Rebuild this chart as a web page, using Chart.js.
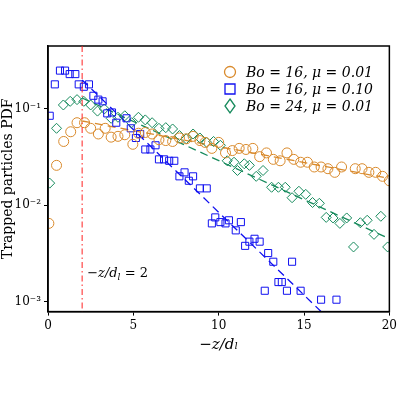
<!DOCTYPE html>
<html><head>
<script src="https://cdn.jsdelivr.net/npm/chart.js@4"></script>
<style>body{margin:0;background:#fff}</style>
</head><body>
<canvas id="c" width="400" height="400"></canvas>
<script>
// Bo=16, mu=0.01
const orangeX = [0.05,0.5,0.92,1.33,1.7,2.14,2.5,2.95,3.35,3.7,4.1,4.5,4.97,5.3,5.7,6.1,6.5,6.9,7.3,7.7,8.1,8.5,8.9,9.2,9.6,10.0,10.4,10.8,11.2,11.6,12.0,12.4,12.8,13.2,13.6,14.0,14.4,14.8,15.2,15.6,16.0,16.4,16.8,17.2,18.0,18.4,18.8,19.2,19.6,20.0];
const orangeY = [0.0065,0.026,0.046,0.058,0.072,0.072,0.063,0.055,0.063,0.051,0.052,0.054,0.043,0.056,0.057,0.055,0.048,0.047,0.046,0.05,0.049,0.052,0.047,0.045,0.039,0.045,0.035,0.037,0.039,0.038,0.039,0.032,0.035,0.03,0.029,0.035,0.03,0.028,0.028,0.025,0.025,0.024,0.022,0.025,0.024,0.024,0.022,0.022,0.02,0.018];
// Bo=16, mu=0.10
const blueX = [0.1,0.4,0.7,1.0,1.27,1.6,1.8,2.1,2.4,2.66,2.95,3.2,3.47,3.75,4.0,4.6,4.85,5.15,5.4,5.7,6.0,6.3,6.5,6.8,7.1,7.4,7.7,8.0,8.25,8.5,8.9,9.3,9.6,9.8,10.1,10.4,10.6,11.0,11.3,11.55,11.8,12.1,12.4,12.7,12.9,13.2,13.5,13.7,14.0,14.3,14.8,16.0,16.9];
const blueY = [0.085,0.18,0.25,0.25,0.23,0.23,0.18,0.17,0.18,0.137,0.125,0.12,0.09,0.092,0.072,0.08,0.063,0.05,0.055,0.038,0.038,0.042,0.03,0.03,0.029,0.029,0.02,0.022,0.018,0.02,0.015,0.015,0.0065,0.0075,0.0067,0.0065,0.007,0.0055,0.0067,0.0038,0.0042,0.0045,0.0042,0.0013,0.0032,0.0026,0.0016,0.0016,0.0013,0.0026,0.0013,0.00105,0.00105];
// Bo=24, mu=0.01
const greenX = [0.1,0.5,0.9,1.3,1.7,2.1,2.5,2.9,3.3,3.7,4.1,4.5,4.9,5.3,5.7,6.1,6.5,6.9,7.3,7.7,8.1,8.5,8.9,9.3,9.7,10.1,10.5,10.9,11.1,11.5,11.8,12.2,12.6,13.1,13.5,13.9,14.3,14.7,15.1,15.5,15.9,16.3,16.7,17.1,17.5,17.9,18.3,18.7,19.1,19.5,19.9];
const greenY = [0.017,0.063,0.11,0.12,0.125,0.12,0.11,0.095,0.1,0.08,0.082,0.085,0.072,0.082,0.077,0.072,0.063,0.064,0.062,0.053,0.049,0.055,0.05,0.045,0.046,0.042,0.029,0.028,0.023,0.027,0.026,0.02,0.023,0.0154,0.0154,0.0154,0.012,0.014,0.013,0.0107,0.0105,0.0075,0.0074,0.0065,0.0074,0.0037,0.0066,0.007,0.005,0.0077,0.0037];
// fitted dashed lines
const orangeFitX = [2, 20], orangeFitY = [0.075, 0.019];
const blueFitX = [2, 16.1], blueFitY = [0.2, 0.00076];
const greenFitX = [2, 20], greenFitY = [0.13, 0.0045];
const legendLabels = ['Bo = 16, μ = 0.01', 'Bo = 16, μ = 0.10', 'Bo = 24, μ = 0.01'];
const xTicks = [0, 5, 10, 15, 20];

const ORANGE = '#d98a2c', BLUE = '#1010f0', GREEN = '#168a5c';
const pts = (xs, ys) => xs.map((x, i) => ({x: x, y: ys[i]}));
const sup = {'-': '⁻', '1': '¹', '2': '²', '3': '³'};

const extras = {
  id: 'extras',
  afterDraw(chart) {
    const ctx = chart.ctx, xs = chart.scales.x, a = chart.chartArea;
    ctx.save();
    // frame
    ctx.strokeStyle = '#000'; ctx.lineWidth = 1.5;
    ctx.strokeRect(a.left, a.top, a.right - a.left, a.bottom - a.top);
    // red dash-dot line
    ctx.strokeStyle = '#ff2020'; ctx.lineWidth = 1;
    ctx.setLineDash([6, 3, 1.5, 3]);
    const px = xs.getPixelForValue(2);
    ctx.beginPath(); ctx.moveTo(px, a.top); ctx.lineTo(px, a.bottom); ctx.stroke();
    ctx.setLineDash([]);
    ctx.fillStyle = '#000';
    ctx.font = 'italic 13px "DejaVu Serif"';
    ctx.fillText('−z/d', px + 5, 277);
    const w = ctx.measureText('−z/d').width;
    ctx.font = 'italic 9px "DejaVu Serif"';
    ctx.fillText('l', px + 5 + w, 280);
    ctx.font = '13px "DejaVu Serif"';
    ctx.fillText(' = 2', px + 8 + w, 277);
    // legend
    const cols = [ORANGE, BLUE, GREEN];
    for (let i = 0; i < 3; i++) {
      const y = 72 + i * 17, x = 230;
      ctx.strokeStyle = cols[i]; ctx.lineWidth = 1.3;
      ctx.beginPath();
      if (i === 0) ctx.arc(x, y, 5.5, 0, Math.PI * 2);
      else if (i === 1) ctx.rect(x - 5, y - 5, 10, 10);
      else { ctx.moveTo(x, y - 7); ctx.lineTo(x + 5, y); ctx.lineTo(x, y + 7); ctx.lineTo(x - 5, y); ctx.closePath(); }
      ctx.stroke();
      ctx.fillStyle = '#000';
      ctx.font = 'italic 14px "DejaVu Serif"';
      ctx.fillText(legendLabels[i], 246, y + 5);
    }
    ctx.restore();
  }
};

new Chart(document.getElementById('c'), {
  type: 'scatter',
  data: {
    datasets: [
      {data: pts(orangeX, orangeY), pointStyle: 'circle', pointRadius: 5, borderColor: ORANGE, backgroundColor: 'transparent', pointBorderWidth: 1},
      {data: pts(blueX, blueY), pointStyle: 'rect', pointRadius: 5, borderColor: BLUE, backgroundColor: 'transparent', pointBorderWidth: 1},
      {data: pts(greenX, greenY), pointStyle: 'rectRot', pointRadius: 5, borderColor: GREEN, backgroundColor: 'transparent', pointBorderWidth: 1},
      {type: 'line', data: pts(orangeFitX, orangeFitY), borderColor: ORANGE, borderDash: [8, 5], borderWidth: 1.3, pointRadius: 0},
      {type: 'line', data: pts(blueFitX, blueFitY), borderColor: BLUE, borderDash: [8, 5], borderWidth: 1.3, pointRadius: 0},
      {type: 'line', data: pts(greenFitX, greenFitY), borderColor: GREEN, borderDash: [8, 5], borderWidth: 1.3, pointRadius: 0}
    ]
  },
  options: {
    responsive: false, animation: false,
    layout: {padding: {top: 46, right: 0, left: 0, bottom: 46}},
    plugins: {legend: {display: false}, tooltip: {enabled: false}},
    scales: {
      x: {
        type: 'linear', min: 0, max: 20,
        afterBuildTicks: s => { s.ticks = xTicks.map(v => ({value: v})); },
        grid: {drawOnChartArea: false, color: '#000', tickLength: 4},
        border: {color: '#000', width: 1.5},
        ticks: {color: '#000', font: {family: 'DejaVu Serif', size: 12}, maxRotation: 0},
        title: {display: true, text: '−z/dₗ', color: '#000', font: {family: 'DejaVu Serif', size: 15, style: 'italic'}, padding: 0}
      },
      y: {
        type: 'logarithmic', min: 0.00079, max: 0.45,
        afterBuildTicks: s => { s.ticks = [0.001, 0.01, 0.1].map(v => ({value: v})); },
        afterFit: s => { s.width = 48; },
        grid: {drawOnChartArea: false, color: '#000', tickLength: 4},
        border: {color: '#000', width: 1.5},
        ticks: {color: '#000', font: {family: 'DejaVu Serif', size: 12},
          callback: v => '10' + String(Math.round(Math.log10(v))).split('').map(c => sup[c]).join('')},
        title: {display: true, text: 'Trapped particles PDF', color: '#000', font: {family: 'DejaVu Serif', size: 14}, padding: 0}
      }
    }
  },
  plugins: [extras]
});
</script>
</body></html>
